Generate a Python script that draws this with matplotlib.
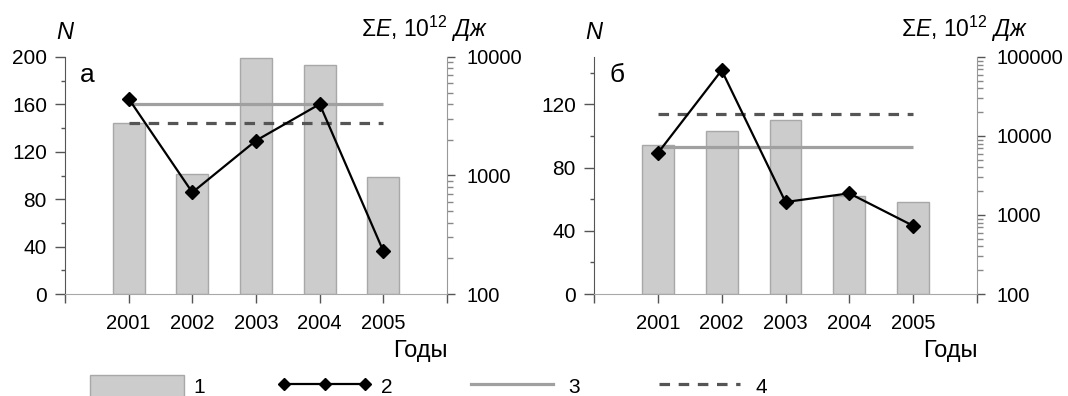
import numpy as np
import matplotlib
matplotlib.use("Agg")
from matplotlib import pyplot as plt
from matplotlib.lines import Line2D
from matplotlib.patches import Patch
from matplotlib.ticker import FixedLocator, FuncFormatter, LogLocator, NullFormatter

plt.rcParams['font.family'] = ['Liberation Sans', 'DejaVu Sans']
plt.rcParams['mathtext.fontset'] = 'custom'
plt.rcParams['mathtext.rm'] = 'Liberation Sans'
plt.rcParams['mathtext.it'] = 'Liberation Sans:italic'
plt.rcParams['font.size'] = 14.5

years = ['2001', '2002', '2003', '2004', '2005']

# panel a
n_a = [144, 101, 199, 193, 99]
e_a = [4450, 720, 1970, 4000, 230]
n_mean_a = 160
e_mean_a = 2750

# panel b
n_b = [94, 103, 110, 62, 58]
e_b = [6070, 67900, 1460, 1880, 730]
n_mean_b = 93
e_mean_b = 19000

bar_col = '#cccccc'
bar_edge = '#a8a8a8'
mean_col = '#a0a0a0'
dash_col = '#555555'
e_label = r'$\Sigma\mathit{E}$, 10$^{12}$ $\mathit{Дж}$'

fig = plt.figure(figsize=(10.68, 3.96), dpi=100)


def panel(rect, n, e, n_mean, e_mean, nmax, nmajor, emax, letter, elab_x):
    ax = fig.add_axes(rect)
    x = np.arange(1, len(years) + 1)
    ax.bar(x, n, width=0.5, color=bar_col, edgecolor=bar_edge, linewidth=1, zorder=1)
    ax.hlines(n_mean, x[0], x[-1], color=mean_col, lw=2.3, zorder=2)
    ax.set_xlim(0, len(years) + 1)
    ax.set_ylim(0, nmax)
    ax.set_xticks(np.arange(0, len(years) + 2))
    ax.set_xticklabels([''] + years + [''])
    ax.yaxis.set_major_locator(FixedLocator(nmajor))
    step = nmajor[1] - nmajor[0]
    ax.yaxis.set_minor_locator(FixedLocator(np.arange(step / 2, nmax, step)))
    ax.tick_params(axis='y', which='major', direction='out', length=7, width=1,
                   color='#555555', pad=6, labelsize=15)
    ax.tick_params(axis='y', which='minor', direction='out', length=3, width=1,
                   color='#555555')
    ax.tick_params(axis='x', direction='out', length=6.5, width=1, color='#555555', pad=8)
    for s in ['top', 'right']:
        ax.spines[s].set_visible(False)
    ax.spines['left'].set_color('#555555')
    ax.spines['bottom'].set_color('#a8a8a8')

    axt = ax.twinx()
    axt.set_yscale('log')
    axt.set_ylim(100, emax)
    axt.hlines(e_mean, x[0], x[-1], color=dash_col, lw=2.3, linestyles=(0, (3.3, 2.7)),
               zorder=2)
    axt.plot(x, e, color='black', lw=1.6, marker='D', ms=7.5, zorder=3)
    axt.yaxis.set_major_locator(LogLocator(base=10))
    axt.yaxis.set_minor_locator(LogLocator(base=10, subs=np.arange(2, 10)))
    axt.yaxis.set_major_formatter(FuncFormatter(lambda v, p: f'{v:.0f}'))
    axt.yaxis.set_minor_formatter(NullFormatter())
    axt.tick_params(axis='y', which='major', direction='out', length=6, width=1,
                    color='#555555', pad=8)
    axt.tick_params(axis='y', which='minor', direction='out', length=4, width=1,
                    color='#888888')
    for s in ['top', 'left', 'bottom']:
        axt.spines[s].set_visible(False)
    axt.spines['right'].set_color('#999999')

    ax.text(0, 1.103, 'N', transform=ax.transAxes, ha='center', va='center',
            style='italic', fontsize=17)
    axt.text(elab_x, 1.084, e_label, transform=ax.transAxes, ha='center', va='baseline',
             fontsize=16.5)
    ax.text(0.059, 0.922, letter, transform=ax.transAxes, ha='center', va='center',
            fontsize=19)
    ax.text(0.93, -0.24, 'Годы', transform=ax.transAxes, ha='center', va='center',
            fontsize=17)
    return ax, axt


panel([65 / 1068, 102 / 396, 382 / 1068, 237 / 396], n_a, e_a, n_mean_a, e_mean_a,
      200, [0, 40, 80, 120, 160, 200], 10000, 'а', 0.942)
panel([594 / 1068, 102 / 396, 383 / 1068, 237 / 396], n_b, e_b, n_mean_b, e_mean_b,
      150, [0, 40, 80, 120], 100000, 'б', 0.969)

handles = [
    Patch(facecolor=bar_col, edgecolor=bar_edge, linewidth=1),
    Line2D([], [], color='black', lw=1.6, marker='D', ms=6),
    Line2D([], [], color=mean_col, lw=2.3),
    Line2D([], [], color=dash_col, lw=2.3, linestyle=(0, (3.3, 2.7))),
]
fig.legend(handles, ['1', '2', '3', '4'], loc='center left',
           bbox_to_anchor=(90 / 1068, 10 / 396), ncol=4, frameon=False,
           handlelength=4.5, handleheight=1.3, handletextpad=0.45,
           columnspacing=3.5, borderaxespad=0, borderpad=0, numpoints=3,
           fontsize=15)

plt.savefig('out.png', dpi=100)
